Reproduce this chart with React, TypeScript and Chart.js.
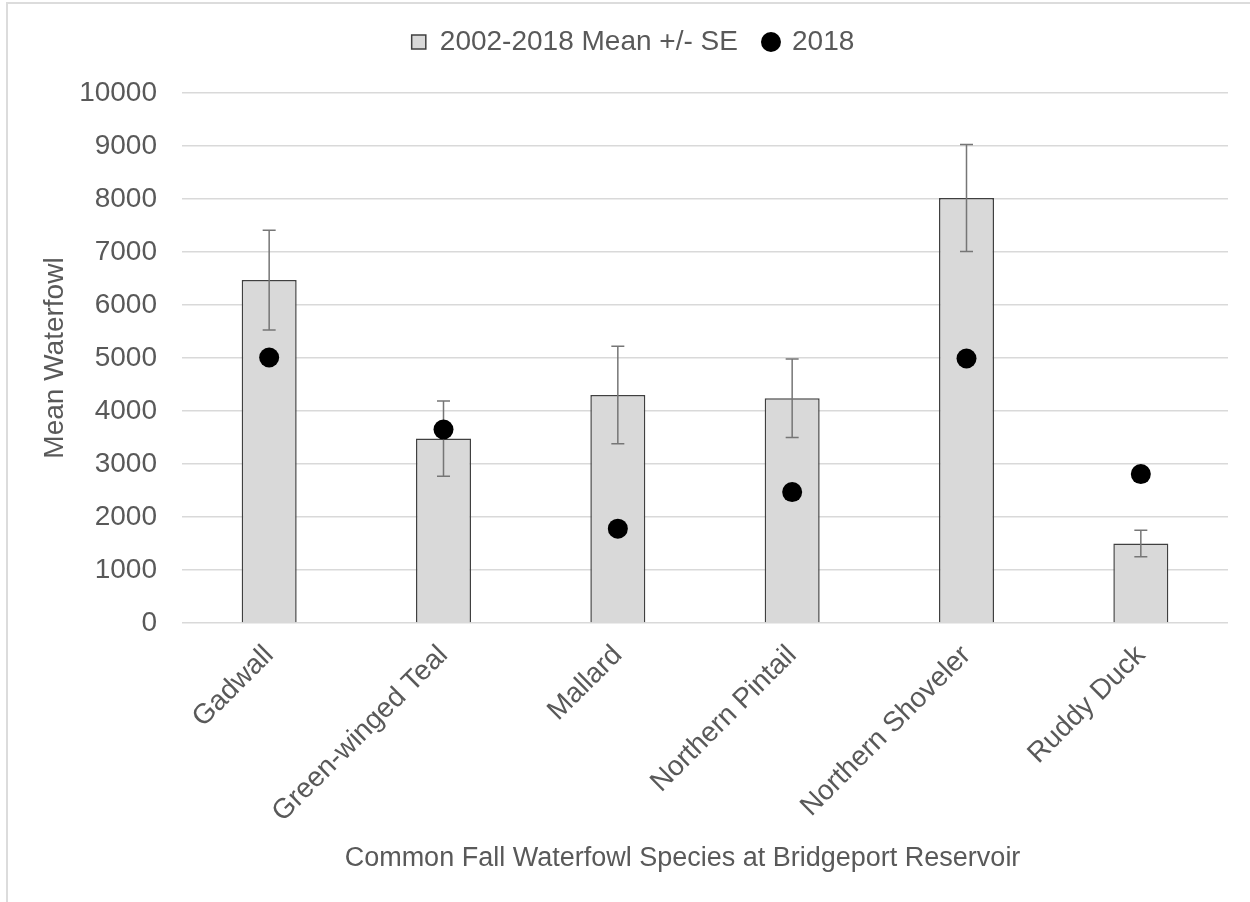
import React, { useEffect, useRef } from "react";
import { Chart, registerables } from "chart.js";

Chart.register(...registerables);

const species = [
  "Gadwall",
  "Green-winged Teal",
  "Mallard",
  "Northern Pintail",
  "Northern Shoveler",
  "Ruddy Duck",
];
const meanCounts = [6470, 3480, 4300, 4240, 8020, 1500];
const standardErrors = [940, 710, 920, 740, 1010, 250];
const counts2018 = [5010, 3650, 1780, 2470, 4990, 2810];
const yTickValues = [0, 1000, 2000, 3000, 4000, 5000, 6000, 7000, 8000, 9000, 10000];
const seriesLabels = ["2002-2018 Mean +/- SE", "2018"];
const xAxisTitle = "Common Fall Waterfowl Species at Bridgeport Reservoir";
const yAxisTitle = "Mean Waterfowl";

const FONT = "'Liberation Sans', Arial, sans-serif";
const TEXT = "#595959";

const errorBarPlugin = {
  id: "errorBars",
  afterDatasetDraw(chart: any, args: any) {
    if (args.index !== 0) return;
    const meta = chart.getDatasetMeta(0);
    const y = chart.scales.y;
    const ctx = chart.ctx;
    ctx.save();
    ctx.strokeStyle = "#767676";
    ctx.lineWidth = 1.5;
    meta.data.forEach((bar: any, i: number) => {
      const x = bar.x;
      const top = y.getPixelForValue(meanCounts[i] + standardErrors[i]);
      const bot = y.getPixelForValue(meanCounts[i] - standardErrors[i]);
      ctx.beginPath();
      ctx.moveTo(x, top);
      ctx.lineTo(x, bot);
      ctx.moveTo(x - 6.5, top);
      ctx.lineTo(x + 6.5, top);
      ctx.moveTo(x - 6.5, bot);
      ctx.lineTo(x + 6.5, bot);
      ctx.stroke();
    });
    ctx.restore();
  },
};

export default function App() {
  const ref = useRef<HTMLCanvasElement | null>(null);

  useEffect(() => {
    if (!ref.current) return;
    const chart = new Chart(ref.current, {
      type: "bar",
      data: {
        labels: species,
        datasets: [
          {
            type: "bar",
            label: seriesLabels[0],
            data: meanCounts,
            backgroundColor: "#d9d9d9",
            borderColor: "#404040",
            borderWidth: 1.5,
            barPercentage: 0.3155,
            categoryPercentage: 1,
            order: 1,
          } as any,
          {
            type: "line",
            label: seriesLabels[1],
            data: counts2018,
            showLine: false,
            pointRadius: 10,
            pointHoverRadius: 10,
            pointBackgroundColor: "#000",
            pointBorderColor: "#000",
            pointBorderWidth: 0,
            backgroundColor: "#000",
            borderColor: "#000",
            order: 0,
          } as any,
        ],
      },
      options: {
        responsive: false,
        maintainAspectRatio: false,
        animation: false,
        layout: { padding: { left: 38, right: 22, top: 2, bottom: 0 } },
        plugins: {
          tooltip: { enabled: false },
          subtitle: {
            display: true,
            text: "",
            position: "top",
            weight: 0,
            padding: 0,
            font: { size: 22.5, family: FONT },
          },
          legend: {
            position: "top",
            labels: {
              usePointStyle: true,
              boxWidth: 14.14,
              boxHeight: 14.14,
              padding: 26,
              color: TEXT,
              font: { size: 28, family: FONT },
              sort: (a: any, b: any) => a.datasetIndex - b.datasetIndex,
              generateLabels(c: any) {
                const items = (Chart.defaults as any).plugins.legend.labels.generateLabels(c);
                return items.map((it: any) => {
                  const isBar = it.datasetIndex === 0;
                  return {
                    ...it,
                    pointStyle: isBar ? "rect" : "circle",
                    fillStyle: isBar ? "#d9d9d9" : "#000",
                    strokeStyle: isBar ? "#404040" : "#000",
                    lineWidth: isBar ? 1.5 : 0,
                  };
                });
              },
            },
          },
        },
        scales: {
          x: {
            grid: { display: false, drawTicks: false },
            border: { display: false },
            ticks: {
              autoSkip: false,
              minRotation: 45,
              maxRotation: 45,
              padding: 16,
              color: TEXT,
              font: { size: 28, family: FONT },
            },
            title: {
              display: true,
              text: xAxisTitle + "      ",
              color: TEXT,
              font: { size: 27, family: FONT },
              padding: { top: 0, bottom: 27 },
            },
            afterFit(s: any) {
              s.height = 279;
            },
          },
          y: {
            min: 0,
            max: 10000,
            afterBuildTicks(s: any) {
              s.ticks = yTickValues.map((v) => ({ value: v }));
            },
            ticks: {
              padding: 25,
              color: TEXT,
              font: { size: 28, family: FONT },
              callback: (v: any) => String(v),
            },
            grid: { color: "#d9d9d9", lineWidth: 1.5, drawTicks: false },
            border: { display: false },
            title: {
              display: true,
              text: yAxisTitle,
              color: TEXT,
              font: { size: 28, family: FONT },
              padding: 0,
            },
            afterFit(s: any) {
              s.width = 144;
            },
          },
        },
      },
      plugins: [errorBarPlugin],
    });
    return () => chart.destroy();
  }, []);

  return (
    <div
      style={{
        position: "fixed",
        left: 0,
        top: 0,
        width: 1250,
        height: 902,
        overflow: "hidden",
        background: "#fff",
      }}
    >
      <div
        style={{
          position: "absolute",
          left: 6,
          top: 2,
          width: 1320,
          height: 1000,
          border: "2px solid #dcdcdc",
          boxSizing: "border-box",
        }}
      />
      <canvas
        ref={ref}
        width={1250}
        height={902}
        style={{ position: "absolute", left: 0, top: 0, width: 1250, height: 902 }}
      />
    </div>
  );
}
